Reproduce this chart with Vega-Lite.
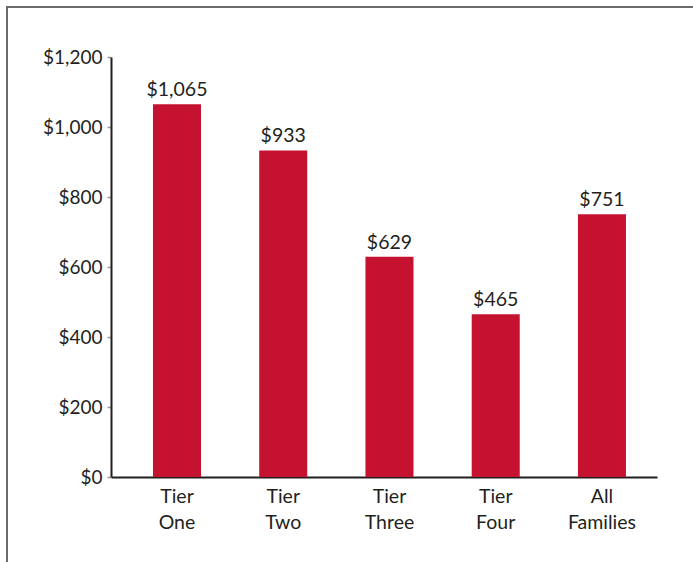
{
  "$schema": "https://vega.github.io/schema/vega-lite/v6.json",
  "autosize": {"type": "none"},
  "width": 696,
  "height": 565,
  "padding": {"left": 7, "top": 7, "right": -10, "bottom": -10},
  "background": "white",
  "config": {
    "view": {"stroke": "#6b6b6b", "strokeWidth": 2},
    "font": "Lato"
  },
  "data": {
    "values": [
      {"group": "Tier One", "value": 1065},
      {"group": "Tier Two", "value": 933},
      {"group": "Tier Three", "value": 629},
      {"group": "Tier Four", "value": 465},
      {"group": "All Families", "value": 751}
    ]
  },
  "encoding": {
    "x": {
      "field": "group",
      "type": "nominal",
      "sort": null,
      "scale": {"range": [104, 650], "paddingInner": 0.548, "paddingOuter": 0.3435, "align": 0.575},
      "axis": {
        "title": null,
        "orient": "bottom",
        "offset": -95,
        "labelAngle": 0,
        "ticks": false,
        "domainColor": "#231f20",
        "domainWidth": 2,
        "labelFont": "Lato",
        "labelFontSize": 19.5,
        "labelColor": "#231f20",
        "labelPadding": 10,
        "labelLineHeight": 26,
        "labelExpr": "split(datum.label, ' ')"
      }
    },
    "y": {
      "field": "value",
      "type": "quantitative",
      "scale": {"domain": [0, 1200], "range": [470, 50], "nice": false},
      "axis": {
        "title": null,
        "orient": "left",
        "offset": -104,
        "values": [0, 200, 400, 600, 800, 1000, 1200],
        "format": "$,d",
        "grid": false,
        "tickSize": 4,
        "tickColor": "#9a9a9a",
        "tickWidth": 1.5,
        "domainColor": "#231f20",
        "domainWidth": 2,
        "labelFont": "Lato",
        "labelFontSize": 19,
        "labelColor": "#231f20",
        "labelPadding": 5
      }
    }
  },
  "layer": [
    {"mark": {"type": "bar", "color": "#c41230"}},
    {
      "mark": {"type": "text", "baseline": "bottom", "dy": -4, "fontSize": 19.5, "color": "#231f20", "font": "Lato"},
      "encoding": {"text": {"field": "value", "type": "quantitative", "format": "$,d"}}
    }
  ]
}
